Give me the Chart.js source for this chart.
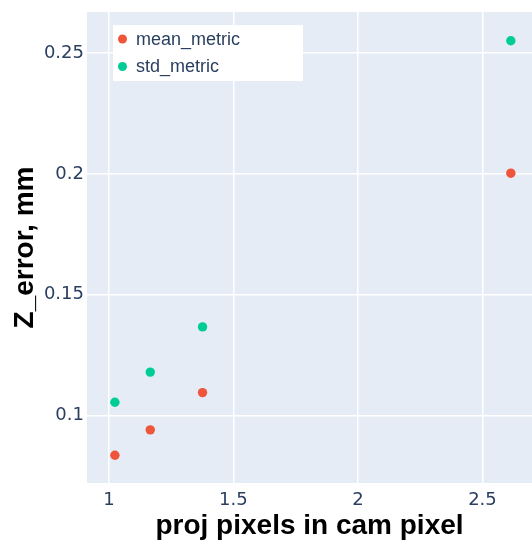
<!DOCTYPE html>
<html>
<head>
<meta charset="utf-8">
<script src="https://cdn.jsdelivr.net/npm/chart.js@4.4.1/dist/chart.umd.min.js"></script>
<style>
  html, body { margin: 0; padding: 0; background: #fff; }
  #wrap { width: 532px; height: 540px; }
</style>
</head>
<body>
<div id="wrap"><canvas id="chart" width="532" height="540"></canvas></div>
<script>
// Data
const projPixels = [1.024, 1.166, 1.376, 2.614];
const meanMetric = [0.0836, 0.0941, 0.1095, 0.2003];
const stdMetric = [0.1055, 0.1180, 0.1367, 0.2551];
const seriesNames = ['mean_metric', 'std_metric'];
const xTicks = [1, 1.5, 2, 2.5];
const yTicks = [0.1, 0.15, 0.2, 0.25];

const colors = ['#EF553B', '#00CC96'];
const tickFont = { family: 'DejaVu Sans', size: 18 };
const titleFont = { family: 'Liberation Sans, Arial', size: 28, weight: 'bold' };

function toPoints(ys) {
    return projPixels.map((x, i) => ({ x: x, y: ys[i] }));
}

// Plot background (plotly style)
const plotBg = {
    id: 'plotBg',
    beforeDraw(chart) {
        const { ctx, chartArea: a } = chart;
        ctx.save();
        ctx.fillStyle = '#E5ECF6';
        ctx.fillRect(a.left, a.top, a.right - a.left, a.bottom - a.top);
        ctx.restore();
    }
};

// Legend box inside plot, top-left
const insideLegend = {
    id: 'insideLegend',
    afterDraw(chart) {
        const { ctx, chartArea: a } = chart;
        const x0 = a.left + 26, y0 = a.top + 13;
        ctx.save();
        ctx.fillStyle = '#ffffff';
        ctx.fillRect(x0, y0, 190, 56);
        ctx.font = '18px "Liberation Sans", Arial';
        ctx.textBaseline = 'middle';
        chart.data.datasets.forEach((ds, i) => {
            const cy = y0 + 14 + i * 27.5;
            ctx.beginPath();
            ctx.fillStyle = ds.backgroundColor;
            ctx.arc(x0 + 9.5, cy, 4.5, 0, Math.PI * 2);
            ctx.fill();
            ctx.fillStyle = '#2a3f5f';
            ctx.fillText(ds.label, x0 + 23, cy + 1);
        });
        ctx.restore();
    }
};

new Chart(document.getElementById('chart').getContext('2d'), {
    type: 'scatter',
    data: {
        datasets: [
            { label: seriesNames[0], data: toPoints(meanMetric), backgroundColor: colors[0], borderWidth: 0, pointRadius: 4.7 },
            { label: seriesNames[1], data: toPoints(stdMetric), backgroundColor: colors[1], borderWidth: 0, pointRadius: 4.7 }
        ]
    },
    options: {
        responsive: false,
        animation: false,
        layout: { autoPadding: false, padding: { top: 12, left: 0, right: 0, bottom: 0 } },
        plugins: {
            legend: { display: false },
            tooltip: { enabled: false }
        },
        scales: {
            x: {
                type: 'linear',
                min: 0.912,
                max: 2.699,
                afterBuildTicks: s => { s.ticks = xTicks.map(v => ({ value: v })); },
                afterFit: s => { s.height = 57; s.paddingLeft = 0; s.paddingRight = 0; },
                grid: { color: '#ffffff', lineWidth: 1.5, drawTicks: false },
                border: { display: false },
                ticks: { font: tickFont, color: '#2a3f5f', padding: 7, maxRotation: 0, callback: v => String(v) },
                title: {
                    display: true,
                    text: 'proj pixels in cam pixel',
                    color: '#000',
                    font: Object.assign({ lineHeight: 1 }, titleFont),
                    padding: { top: 0, bottom: 0 }
                }
            },
            y: {
                type: 'linear',
                min: 0.0721,
                max: 0.267,
                afterBuildTicks: s => { s.ticks = yTicks.map(v => ({ value: v })); },
                afterFit: s => { s.width = 87; s.paddingTop = 0; s.paddingBottom = 0; },
                grid: { color: '#ffffff', lineWidth: 1.5, drawTicks: false },
                border: { display: false },
                ticks: { font: tickFont, color: '#2a3f5f', padding: 3, callback: v => String(v) },
                title: {
                    display: true,
                    text: 'Z_error, mm',
                    color: '#000',
                    font: titleFont,
                    padding: { top: 8, bottom: 0 }
                }
            }
        }
    },
    plugins: [plotBg, insideLegend]
});
</script>
</body>
</html>
